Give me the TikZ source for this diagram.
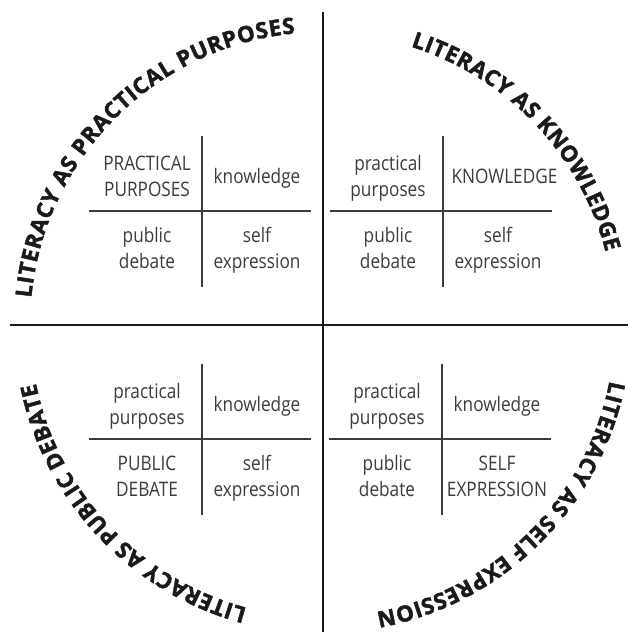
\documentclass[tikz,border=0pt]{standalone}
\usepackage{fontspec}
\setmainfont{Open Sans}
\newfontfamily\cellfont[FakeStretch=0.86]{Open Sans}
\newfontfamily\arcfont[BoldFeatures={FakeBold=2}]{Open Sans}
\usetikzlibrary{decorations.text}
\definecolor{ink}{HTML}{1A1A1A}
\definecolor{cellink}{HTML}{3C3C3C}
\newcommand\litquad[8]{%
  \begin{scope}[shift={(#1,#2)}]
    \coordinate (#3c) at (0,0);
    \draw[gridline] (-113,0) -- (109,0);
    \draw[gridline] (0,75) -- (0,-76);
    \node[cell] (#3pp) at (-55,14) {#4};
    \node[cell] (#3kn) at (#8,27) {#5};
    \node[cell] (#3pd) at (-55,-58) {#6};
    \node[cell] (#3se) at (55,-58) {#7};
  \end{scope}}
\begin{document}
\begin{tikzpicture}[x=1pt,y=1pt,
  mainline/.style={line width=1.8pt, draw=ink},
  gridline/.style={line width=1.1pt, draw=cellink},
  cell/.style={font=\cellfont\fontsize{20}{26}\selectfont, text=cellink, align=center, anchor=base, inner sep=0pt},
  arctext/.style={decorate, decoration={text along path, text color=ink,
      text={|\arcfont\bfseries\fontsize{22.3}{28}\selectfont|#1}, text align=fit to path}}
]
\useasboundingbox (0,0) rectangle (628,632);
\fill[white] (0,0) rectangle (628,632);
\coordinate (C) at (323,307);
\coordinate (Ctop) at (323,620.3);
\coordinate (Cbot) at (323,0);
\coordinate (Cleft) at (9.5,307);
\coordinate (Cright) at (628,307);
\draw[mainline] (Ctop) -- (Cbot);
\draw[mainline] (Cleft) -- (Cright);

\litquad{202}{421}{tl}{PRACTICAL\\PURPOSES}{knowledge}{public\\debate}{self\\expression}{55}
\litquad{443}{421}{tr}{practical\\purposes}{KNOWLEDGE}{public\\debate}{self\\expression}{61.5}
\litquad{202}{193}{bl}{practical\\purposes}{knowledge}{PUBLIC\\DEBATE}{self\\expression}{55}
\litquad{442}{193}{br}{practical\\purposes}{knowledge}{public\\debate}{SELF\\EXPRESSION}{55}

\path[arctext={LITERACY AS PRACTICAL PURPOSES}]
  ([shift={(174.7:293)}]C) arc[start angle=174.7, end angle=95.5, radius=293];
\path[arctext={LITERACY AS KNOWLEDGE}]
  ([shift={(72.5:292)}]C) arc[start angle=72.5, end angle=14.5, radius=292];
\path[arctext={LITERACY AS SELF EXPRESSION}]
  ([shift={(-11:292)}]C) arc[start angle=-11, end angle=-79.5, radius=292];
\path[arctext={LITERACY AS PUBLIC DEBATE}]
  ([shift={(-105:293)}]C) arc[start angle=-105, end angle=-168.5, radius=293];
\end{tikzpicture}
\end{document}
